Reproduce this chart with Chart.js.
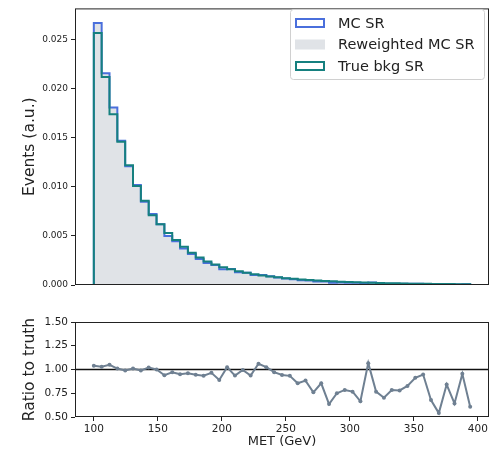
<!DOCTYPE html>
<html>
<head>
<meta charset="utf-8">
<script src="https://cdn.jsdelivr.net/npm/chart.js@4.4.1/dist/chart.umd.min.js"></script>
<style>
  body { margin: 0; background: #fff; }
  #wrap { position: relative; width: 497px; height: 454px; }
  canvas { position: absolute; left: 0; }
  #topChart { top: 0; }
  #ratioChart { top: 300px; }
</style>
</head>
<body>
<div id="wrap">
  <canvas id="topChart" width="497" height="300"></canvas>
  <canvas id="ratioChart" width="497" height="154"></canvas>
</div>
<script>
// bin edges in MET (GeV)
const binEdges = [100, 106.125, 112.25, 118.375, 124.5, 130.625, 136.75, 142.875, 149, 155.125,
  161.25, 167.375, 173.5, 179.625, 185.75, 191.875, 198, 204.125, 210.25, 216.375,
  222.5, 228.625, 234.75, 240.875, 247, 253.125, 259.25, 265.375, 271.5, 277.625,
  283.75, 289.875, 296, 302.125, 308.25, 314.375, 320.5, 326.625, 332.75, 338.875,
  345, 351.125, 357.25, 363.375, 369.5, 375.625, 381.75, 387.875, 394];

const trueBkg = [0.0257, 0.0212, 0.0174, 0.0146, 0.0122, 0.0101, 0.0086, 0.0071, 0.0062, 0.0053,
  0.0046, 0.0039, 0.0033, 0.0028, 0.0024, 0.0021, 0.0018, 0.0016, 0.0014, 0.00125,
  0.0011, 0.00097, 0.00087, 0.00078, 0.0007, 0.00063, 0.00057, 0.00051, 0.00046, 0.00042,
  0.00038, 0.00034, 0.00031, 0.00028, 0.00025, 0.00023, 0.00021, 0.00019, 0.00017, 0.00015,
  0.00014, 0.00013, 0.00012, 0.00011, 0.0001, 0.00009, 0.00008, 0.00007];

const mcSR = [0.0267, 0.0216, 0.0181, 0.0147, 0.0121, 0.0102, 0.0085, 0.00724, 0.0062, 0.0050,
  0.00446, 0.00371, 0.00317, 0.00265, 0.00224, 0.00203, 0.0016, 0.00164, 0.00131, 0.00125,
  0.00103, 0.00103, 0.00089, 0.00076, 0.00066, 0.00059, 0.00049, 0.00045, 0.00035, 0.00036,
  0.00024, 0.00026, 0.00024, 0.00022, 0.00017, 0.00025, 0.00016, 0.00013, 0.00013, 0.00012,
  0.00012, 0.00012, 0.00011, 0.00007, 0.00005, 0.00008, 0.00005, 0.00007];

const reweightedMC = [0.0267, 0.0216, 0.0181, 0.0147, 0.0121, 0.0102, 0.0085, 0.00724, 0.0062, 0.0050,
  0.00446, 0.00371, 0.00317, 0.00265, 0.00224, 0.00203, 0.0016, 0.00164, 0.00131, 0.00125,
  0.00103, 0.00103, 0.00089, 0.00076, 0.00066, 0.00059, 0.00049, 0.00045, 0.00035, 0.00036,
  0.00024, 0.00026, 0.00024, 0.00022, 0.00017, 0.00025, 0.00016, 0.00013, 0.00013, 0.00012,
  0.00012, 0.00012, 0.00011, 0.00007, 0.00005, 0.00008, 0.00005, 0.00007];

const ratioToTruth = [1.04, 1.03, 1.05, 1.01, 0.99, 1.01, 0.99, 1.02, 1.00, 0.94,
  0.97, 0.95, 0.96, 0.945, 0.935, 0.965, 0.89, 1.025, 0.936, 0.996,
  0.936, 1.06, 1.025, 0.972, 0.943, 0.933, 0.855, 0.883, 0.76, 0.855,
  0.636, 0.75, 0.785, 0.767, 0.665, 1.067, 0.767, 0.703, 0.785, 0.78,
  0.827, 0.912, 0.947, 0.679, 0.541, 0.841, 0.643, 0.954, 0.608];

const legendLabels = ['MC SR', 'Reweighted MC SR', 'True bkg SR'];
const xTicks = [100, 150, 200, 250, 300, 350, 400];
const yTicksTop = [0, 0.005, 0.01, 0.015, 0.02, 0.025];
const yTicksRatio = [0.5, 0.75, 1.0, 1.25, 1.5];
const refLine = 1.0;

const FONT = "'DejaVu Sans', sans-serif";
const blue = '#4a6fdc';
const teal = '#16807f';
const greyFill = 'rgba(112,128,144,0.22)';
const ratioColor = '#6f8092';
const ink = '#222';

// outline of a histogram: rise at first edge, steps, drop at last edge
function histPoints(values) {
  const pts = [{ x: binEdges[0], y: 0 }];
  values.forEach((v, i) => pts.push({ x: binEdges[i], y: v }));
  pts.push({ x: binEdges[values.length], y: 0 });
  return pts;
}

function setTicks(list) {
  return scale => { scale.ticks = list.map(v => ({ value: v })); };
}

const framePlugin = {
  id: 'frame',
  afterDraw(chart) {
    const a = chart.chartArea;
    const ctx = chart.ctx;
    ctx.save();
    ctx.strokeStyle = ink;
    ctx.lineWidth = 1;
    ctx.strokeRect(a.left + 0.5, a.top + 0.5, a.right - a.left - 1, a.bottom - a.top - 1);
    ctx.restore();
  }
};

const legendPlugin = {
  id: 'boxLegend',
  afterDraw(chart) {
    const ctx = chart.ctx;
    const bx = 290, by = 9, bw = 194, bh = 70;
    ctx.save();
    ctx.fillStyle = 'rgba(255,255,255,0.8)';
    ctx.strokeStyle = '#d0d0d0';
    ctx.lineWidth = 1;
    ctx.beginPath();
    ctx.roundRect(bx + 0.5, by + 0.5, bw, bh, 3);
    ctx.fill();
    ctx.stroke();
    const rows = [23, 44.5, 66];
    ctx.font = '14.5px ' + FONT;
    ctx.textBaseline = 'middle';
    legendLabels.forEach((label, i) => {
      const y = rows[i];
      if (i === 1) {
        ctx.fillStyle = greyFill;
        ctx.fillRect(295, y - 5, 30, 10);
      } else {
        ctx.strokeStyle = i === 0 ? blue : teal;
        ctx.lineWidth = 2;
        ctx.strokeRect(296, y - 4, 28, 8);
      }
      ctx.fillStyle = ink;
      ctx.fillText(label, 338, y + 1);
    });
    ctx.restore();
  }
};

const refLinePlugin = {
  id: 'refLine',
  beforeDatasetsDraw(chart) {
    const y = chart.scales.y.getPixelForValue(refLine);
    const a = chart.chartArea;
    const ctx = chart.ctx;
    ctx.save();
    ctx.strokeStyle = '#111';
    ctx.lineWidth = 1.5;
    ctx.beginPath();
    ctx.moveTo(a.left, y);
    ctx.lineTo(a.right, y);
    ctx.stroke();
    ctx.restore();
  }
};

const xRange = { min: 85.3, max: 408.7 };

new Chart(document.getElementById('topChart').getContext('2d'), {
  type: 'line',
  data: {
    datasets: [
      {
        label: legendLabels[1],
        data: histPoints(reweightedMC),
        stepped: 'before',
        borderWidth: 0,
        borderColor: 'rgba(0,0,0,0)',
        backgroundColor: greyFill,
        fill: 'origin',
        pointRadius: 0,
        order: 3
      },
      {
        label: legendLabels[0],
        data: histPoints(mcSR),
        stepped: 'before',
        borderWidth: 2,
        borderColor: blue,
        fill: false,
        pointRadius: 0,
        order: 2
      },
      {
        label: legendLabels[2],
        data: histPoints(trueBkg),
        stepped: 'before',
        borderWidth: 2,
        borderColor: teal,
        fill: false,
        pointRadius: 0,
        order: 1
      }
    ]
  },
  options: {
    responsive: false,
    devicePixelRatio: 1,
    animation: false,
    layout: { padding: { top: 3, right: 8, left: 0, bottom: 15 } },
    plugins: { legend: { display: false }, tooltip: { enabled: false } },
    scales: {
      x: { type: 'linear', min: xRange.min, max: xRange.max, display: false },
      y: {
        min: 0,
        max: 0.0282,
        afterBuildTicks: setTicks(yTicksTop),
        afterFit: s => { s.width = 75; },
        border: { display: false },
        grid: { drawOnChartArea: false, tickLength: 4, color: ink },
        ticks: { font: { family: FONT, size: 9 }, color: ink, padding: 3, callback: v => v.toFixed(3) },
        title: { display: true, text: 'Events (a.u.)', font: { family: FONT, size: 15.5 }, color: ink, padding: { top: 21 } }
      }
    }
  },
  plugins: [framePlugin, legendPlugin]
});

new Chart(document.getElementById('ratioChart').getContext('2d'), {
  type: 'line',
  data: {
    datasets: [{
      label: 'ratio',
      data: ratioToTruth.map((r, i) => ({ x: binEdges[i], y: r })),
      borderColor: ratioColor,
      backgroundColor: ratioColor,
      borderWidth: 2,
      pointRadius: 2,
      pointBorderWidth: 0,
      tension: 0,
      fill: false
    }]
  },
  options: {
    responsive: false,
    devicePixelRatio: 1,
    animation: false,
    layout: { padding: { top: 22, right: 8, left: 0, bottom: 0 } },
    plugins: { legend: { display: false }, tooltip: { enabled: false } },
    scales: {
      x: {
        type: 'linear',
        min: xRange.min,
        max: xRange.max,
        afterBuildTicks: setTicks(xTicks),
        afterFit: s => { s.height = 37; },
        border: { display: false },
        grid: { drawOnChartArea: false, tickLength: 4, color: ink },
        ticks: { font: { family: FONT, size: 10.5 }, color: ink, padding: 2, maxRotation: 0 },
        title: { display: true, text: 'MET (GeV)', font: { family: FONT, size: 13 }, color: ink, padding: { top: 0, bottom: 5 } }
      },
      y: {
        min: 0.5,
        max: 1.5,
        afterBuildTicks: setTicks(yTicksRatio),
        afterFit: s => { s.width = 75; },
        border: { display: false },
        grid: { drawOnChartArea: false, tickLength: 4, color: ink },
        ticks: { font: { family: FONT, size: 10.5 }, color: ink, padding: 3, callback: v => v.toFixed(2) },
        title: { display: true, text: 'Ratio to truth', font: { family: FONT, size: 15.5 }, color: ink, padding: { top: 21 } }
      }
    }
  },
  plugins: [framePlugin, refLinePlugin]
});
</script>
</body>
</html>
